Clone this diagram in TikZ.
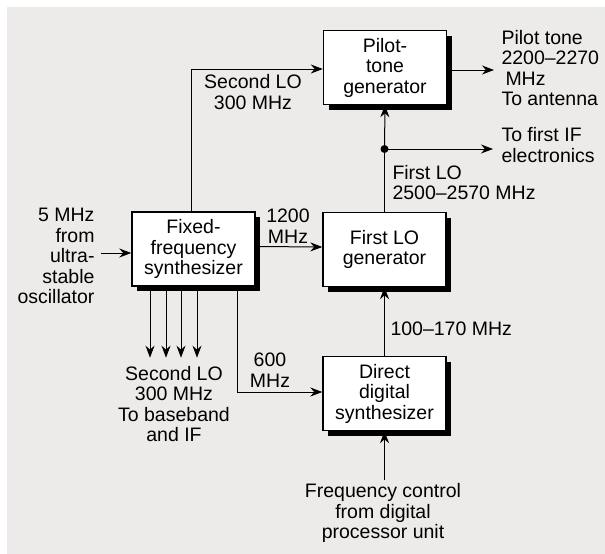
\documentclass[tikz,border=0pt]{standalone}
\usepackage{fontspec}
\setmainfont{Liberation Sans}
\usetikzlibrary{arrows.meta,shadows}
\definecolor{paper}{RGB}{237,235,233}

\begin{document}
\begin{tikzpicture}[x=1pt,y=-1pt,>={Stealth[length=12pt,width=9pt]},
    font=\fontsize{19.5}{20.5}\selectfont, line width=1pt]
    \tikzstyle{box}=[draw, fill=white, line width=1.4pt, align=center, inner sep=0pt,
      minimum width=123pt, minimum height=74pt,
      drop shadow={shadow xshift=5pt, shadow yshift=-5pt, fill=black, opacity=1}]
    \tikzstyle{lbl}=[inner sep=0pt, align=center]

    \useasboundingbox (0,0) rectangle (605,554);
    \fill[white] (0,0) rectangle (605,554);
    \fill[paper] (7,7) rectangle (605,554);

    \node[box] (pilot) at (385,67.5) {Pilot-\\tone\\generator};
    \node[box] (fixed) at (193.5,249) {Fixed-\\frequency\\synthesizer};
    \node[box] (firstlo) at (384.5,249.5) {First LO\\generator};
    \node[box] (dds) at (384.5,393.5) {Direct\\digital\\synthesizer};

    \node[lbl, anchor=east, align=right] (osc) at (95,256)
    {5 MHz\\from\\ultra-\\stable\\oscillator};
    \node[lbl] (secondlo) at (253,92) {Second LO\\300 MHz};
    \node[lbl] (mhz1200) at (288,226) {1200\\MHz};
    \node[lbl, anchor=west, align=left] (antenna) at (501,68)
    {Pilot tone\\2200--2270\\\hspace{4pt}MHz\\To antenna};
    \node[lbl, anchor=west, align=left] (firstif) at (501,145) {To first IF\\electronics};
    \node[lbl, anchor=west, align=left] (lofreq) at (392,182.5) {First LO\\2500--2570 MHz};
    \node[lbl] (baseband) at (174,404) {Second LO\\300 MHz\\To baseband\\and IF};
    \node[lbl] (mhz600) at (270,370) {600\\MHz};
    \node[lbl, anchor=west] (ddsfreq) at (390,329) {100--170 MHz};
    \node[lbl] (control) at (383,513) {Frequency control\\from digital\\processor unit};

    \coordinate (in) at (101,253);
    \coordinate (split) at (firstlo.north |- 0,149);
    \coordinate (ifout) at (493,149);
    \coordinate (antout) at (494,70);
    \coordinate (ctl) at (dds.south |- 0,480);

    \draw[->] (in) -- (in -| fixed.west);
    \draw[->] ([xshift=-2.5pt]fixed.north) |- ([yshift=-1.5pt]pilot.west);
    \draw[->] ([yshift=2.5pt]fixed.east) -- ([yshift=2.5pt]firstlo.west);
    \draw (firstlo.north) -- (split);
    \draw[->] (split) -- (pilot.south);
    \draw[->] (split) -- (ifout);
    \fill (split) circle (4pt);
    \draw[->] (antout -| pilot.east) -- (antout);
    \foreach \dx in {-43.5,-27.5,-12.5,3.5}
      \draw[->] ([xshift=\dx pt]fixed.south) -- ++(0,71);
    \draw[->] ([xshift=44pt]fixed.south) |- ([yshift=1.5pt]dds.west);
    \draw[->] (dds.north) -- (firstlo.south);
    \draw[->] (ctl) -- (dds.south);
  \end{tikzpicture}
\end{document}
